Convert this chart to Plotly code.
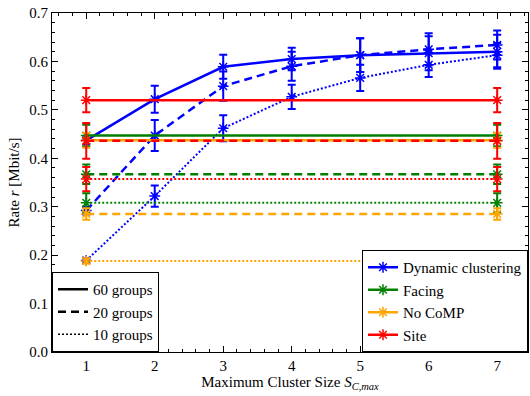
import plotly.graph_objects as go

cluster_sizes = [1, 2, 3, 4, 5, 6, 7]

# Dynamic clustering (depends on cluster size)
dyn_60 = [0.437, 0.522, 0.589, 0.605, 0.613, 0.617, 0.620]
dyn_60_err = [0.008, 0.028, 0.025, 0.023, 0.035, 0.035, 0.035]
dyn_20 = [0.292, 0.447, 0.549, 0.590, 0.613, 0.625, 0.634]
dyn_20_err = [0.008, 0.032, 0.030, 0.030, 0.035, 0.033, 0.030]
dyn_10 = [0.189, 0.322, 0.462, 0.527, 0.566, 0.593, 0.613]
dyn_10_err = [0.004, 0.022, 0.027, 0.025, 0.027, 0.025, 0.025]

# Static schemes (independent of cluster size), shown at S=1 and S=7
flat_x = [1, 7]
facing_vals = {"60": 0.447, "20": 0.367, "10": 0.308}
facing_errs = {"60": 0.022, "20": 0.020, "10": 0.020}
nocomp_vals = {"60": 0.437, "20": 0.285, "10": 0.188}
nocomp_errs = {"60": 0.015, "20": 0.012, "10": 0.005}
site_vals = {"60": 0.520, "20": 0.436, "10": 0.357}
site_errs = {"60": 0.025, "20": 0.037, "10": 0.025}

groups = ["60", "20", "10"]
group_labels = ["60 groups", "20 groups", "10 groups"]
dash_styles = {"60": "solid", "20": "8px,5px", "10": "2px,2px"}
widths = {"60": 2.5, "20": 2.5, "10": 2.0}

BLUE = "rgb(0,0,255)"
GREEN = "rgb(0,128,0)"
ORANGE = "rgb(255,165,0)"
RED = "rgb(255,0,0)"

fig = go.Figure()

def add_series(name, color, xs, ys, errs, g, show):
    fig.add_trace(go.Scatter(
        x=xs, y=ys, mode="lines+markers", name=name,
        legend="legend2", legendgroup=name, showlegend=show,
        line=dict(color=color, width=widths[g], dash=dash_styles[g]),
        marker=dict(symbol="asterisk-open", size=9, color=color,
                    line=dict(width=1.5, color=color)),
        error_y=dict(type="data", array=errs, visible=True,
                     thickness=2, width=4, color=color),
    ))

dyn = {"60": (dyn_60, dyn_60_err), "20": (dyn_20, dyn_20_err), "10": (dyn_10, dyn_10_err)}
for g in groups:
    add_series("Dynamic clustering", BLUE, cluster_sizes, dyn[g][0], dyn[g][1], g, g == "60")
for g in groups:
    add_series("Facing", GREEN, flat_x, [facing_vals[g]] * 2, [facing_errs[g]] * 2, g, g == "60")
for g in groups:
    add_series("No CoMP", ORANGE, flat_x, [nocomp_vals[g]] * 2, [nocomp_errs[g]] * 2, g, g == "60")
for g in groups:
    add_series("Site", RED, flat_x, [site_vals[g]] * 2, [site_errs[g]] * 2, g, g == "60")

# line-style legend
for g, lab in zip(groups, group_labels):
    fig.add_trace(go.Scatter(
        x=[None], y=[None], mode="lines", name=lab, legend="legend",
        line=dict(color="black", width=widths[g] if g != "10" else 1.5, dash=dash_styles[g]),
    ))

font = "Times New Roman, Liberation Serif, Tinos, DejaVu Serif, serif"
axis_common = dict(
    showline=True, linecolor="black", linewidth=1, mirror="allticks",
    ticks="inside", ticklen=6, tickcolor="black", showgrid=False, zeroline=False,
    tickfont=dict(family=font, size=15, color="black"),
)

fig.update_layout(
    width=530, height=396,
    margin=dict(l=52, r=2, t=13, b=44),
    paper_bgcolor="white", plot_bgcolor="white",
    font=dict(family=font, size=15, color="black"),
    xaxis=dict(range=[0.5, 7.45], tickvals=cluster_sizes,
               minor=dict(ticks="inside", dtick=0.2, tick0=0, ticklen=3, tickcolor="black"),
               title=dict(text="Maximum Cluster Size <i>S</i><sub><i>C,max</i></sub>",
                          font=dict(family=font, size=15), standoff=2),
               **axis_common),
    yaxis=dict(range=[0, 0.7], dtick=0.1, tickformat=".1f",
               minor=dict(ticks="inside", dtick=0.02, ticklen=3, tickcolor="black"),
               title=dict(text="Rate <i>r</i> [Mbit/s]", font=dict(family=font, size=15), standoff=6),
               **axis_common),
    legend=dict(x=0, y=0, xanchor="left", yanchor="bottom", bgcolor="white",
                bordercolor="black", borderwidth=1, tracegroupgap=0,
                font=dict(family=font, size=15)),
    legend2=dict(x=1, y=0, xanchor="right", yanchor="bottom", bgcolor="white",
                 bordercolor="black", borderwidth=1, tracegroupgap=0,
                 font=dict(family=font, size=15)),
)

fig.write_html("out.html")
